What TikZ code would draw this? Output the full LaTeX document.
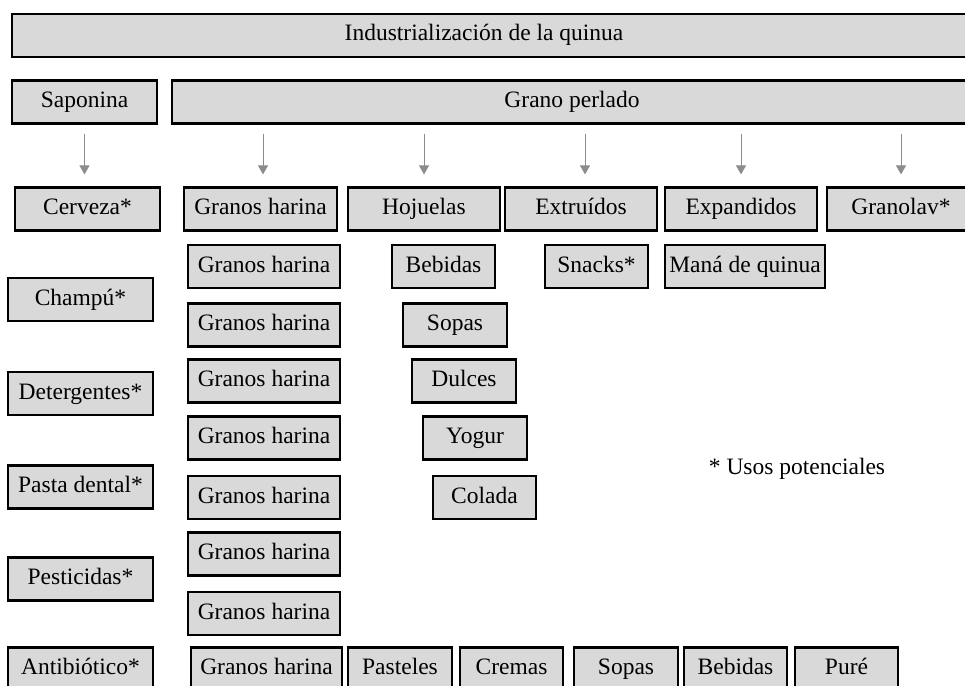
\documentclass[tikz,border=0pt]{standalone}
\usepackage{fontspec}
\setmainfont{Liberation Serif}
\usetikzlibrary{arrows.meta}

\tikzset{
  caja/.style={draw=black, line width=2.2pt, fill=black!15, minimum height=43pt, inner sep=0pt, text height=16pt, text depth=5pt},
  flecha/.style={draw=black!45, line width=1pt, -{Triangle[width=10pt,length=9pt]}, shorten <=9pt, shorten >=12pt}
}

\begin{document}
\begin{tikzpicture}[x=1pt, y=-1pt, every node/.append style={font=\fontsize{23.5}{27}\selectfont}]
    \clip (0,0) rectangle (965,685);
    % encabezados
    \node [caja, minimum width=962pt] (titulo) at (493,35.5) {Industrialización de la quinua\hspace*{18pt}};
    \node [caja, minimum width=145pt] (saponina) at (84.5,102) {Saponina};
    \node [caja, minimum width=800pt] (perlado) at (572,102) {Grano perlado};
    % primera fila
    \node [caja, minimum width=145pt] (cerveza) at (87.5,209) {Cerveza*};
    \node [caja, minimum width=153pt] (granos1) at (260.5,209) {Granos harina};
    \node [caja, minimum width=152pt] (hojuelas) at (424,209) {Hojuelas};
    \node [caja, minimum width=152pt] (extruidos) at (581,209) {Extruídos};
    \node [caja, minimum width=152pt] (expandidos) at (741,209) {Expandidos};
    \node [caja, minimum width=148pt] (granolav) at (901,209) {Granolav*};
    % flechas
    \draw [flecha] (saponina.south) -- (saponina.south |- cerveza.north);
    \draw [flecha] (perlado.south -| 263,0) -- (granos1.north -| 263,0);
    \draw [flecha] (perlado.south -| hojuelas.north) -- (hojuelas.north);
    \draw [flecha] (perlado.south -| 585,0) -- (extruidos.north -| 585,0);
    \draw [flecha] (perlado.south -| expandidos.north) -- (expandidos.north);
    \draw [flecha] (perlado.south -| granolav.north) -- (granolav.north);
    % columna de saponina
    \node [caja, minimum width=145pt] (champu) at (80.5,299.5) {Champú*};
    \node [caja, minimum width=145pt] (detergentes) at (80.5,393.5) {Detergentes*};
    \node [caja, minimum width=145pt] (pasta) at (80.5,487) {Pasta dental*};
    \node [caja, minimum width=145pt] (pesticidas) at (80.5,579) {Pesticidas*};
    \node [caja, minimum width=145pt] (antibiotico) at (80.5,669) {Antibiótico*};
    % columna de granos harina
    \node [caja, minimum width=152pt] (granos2) at (264,266.5) {Granos harina};
    \node [caja, minimum width=152pt] (granos3) at (264,325) {Granos harina};
    \node [caja, minimum width=152pt] (granos4) at (264,381) {Granos harina};
    \node [caja, minimum width=152pt] (granos5) at (264,438) {Granos harina};
    \node [caja, minimum width=152pt] (granos6) at (264,497.5) {Granos harina};
    \node [caja, minimum width=152pt] (granos7) at (264,554) {Granos harina};
    \node [caja, minimum width=152pt] (granos8) at (264,613.5) {Granos harina};
    % derivados de hojuelas
    \node [caja, minimum width=103pt] (bebidas1) at (443.5,266.5) {Bebidas};
    \node [caja, minimum width=104pt] (sopas1) at (455,325) {Sopas};
    \node [caja, minimum width=104pt] (dulces) at (464,381) {Dulces};
    \node [caja, minimum width=104pt] (yogur) at (475,438) {Yogur};
    \node [caja, minimum width=103pt] (colada) at (484.5,497.5) {Colada};
    % extruidos y expandidos
    \node [caja, minimum width=103pt] (snacks) at (596.5,266.5) {Snacks*};
    \node [caja, minimum width=160pt] (mana) at (745,266.5) {Maná de quinua};
    % ultima fila
    \node [caja, minimum width=151pt] (granos9) at (266.5,669) {Granos harina};
    \node [caja, minimum width=104pt] (pasteles) at (400,669) {Pasteles};
    \node [caja, minimum width=103pt] (cremas) at (511.5,669) {Cremas};
    \node [caja, minimum width=104pt] (sopas2) at (626,669) {Sopas};
    \node [caja, minimum width=103pt] (bebidas2) at (735.5,669) {Bebidas};
    \node [caja, minimum width=103pt] (pure) at (846.5,669) {Puré};
    % nota
    \node (nota) at (797,469) {* Usos potenciales};
\end{tikzpicture}
\end{document}
